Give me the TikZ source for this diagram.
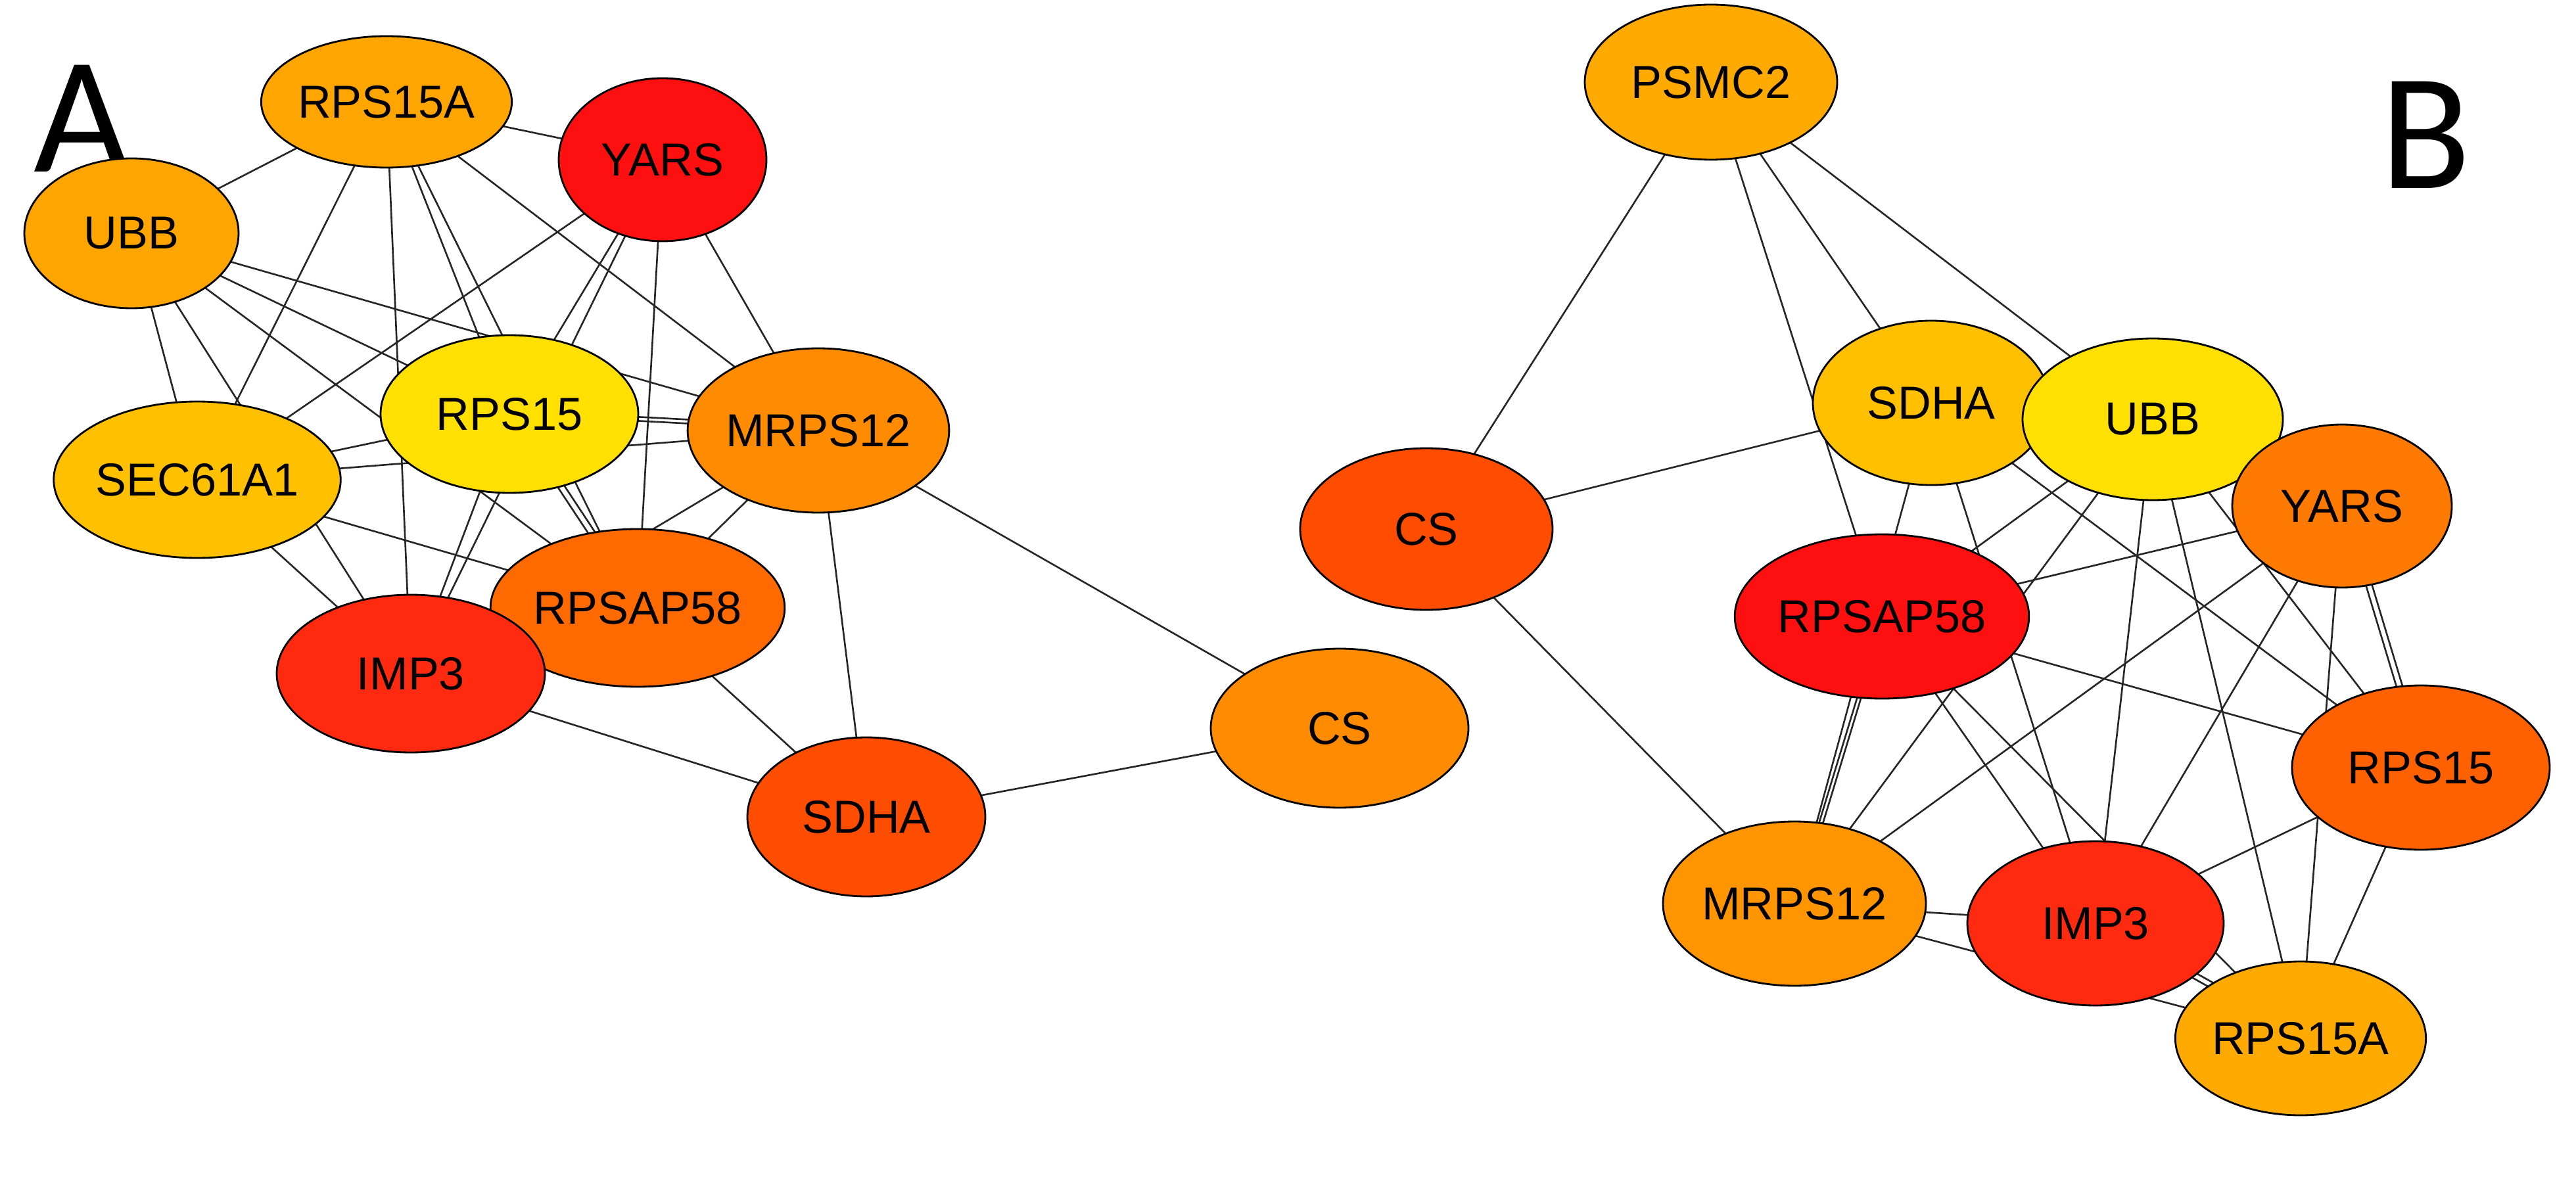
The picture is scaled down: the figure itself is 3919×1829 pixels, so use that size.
\documentclass[tikz,border=0pt]{standalone}
\usepackage{fontspec}
\setmainfont{Liberation Sans}
\newfontfamily\lab{Carlito}
\usetikzlibrary{shapes.geometric,backgrounds}
\begin{document}
\begin{tikzpicture}[x=0.1mm,y=-0.1mm,
 g/.style={ellipse,draw=black,line width=0.8pt,inner sep=0pt,font=\fontsize{20}{24}\selectfont},
 e/.style={line width=0.75pt,draw=black!85},
 big/.style={font=\lab\fontsize{72}{80}\selectfont,inner sep=0pt}]
\useasboundingbox (0,0) rectangle (3919,1829);
\definecolor{c1}{HTML}{FFA500}\definecolor{c2}{HTML}{FF1010}\definecolor{c3}{HTML}{FFE000}
\definecolor{c4}{HTML}{FF8C00}\definecolor{c5}{HTML}{FFC000}\definecolor{c6}{HTML}{FF6A00}
\definecolor{c7}{HTML}{FF2A10}\definecolor{c8}{HTML}{FF4D00}\definecolor{c9}{HTML}{FF7A00}
\definecolor{c10}{HTML}{FFAA00}\definecolor{c11}{HTML}{FF6000}\definecolor{c12}{HTML}{FF9500}
\node[big] (LA) at (125,180) {A};
\node[big] (LB) at (3690,205) {B};
% panel A
\node[g,fill=c1,minimum width=35mm,minimum height=20mm] (a15A) at (588,155) {RPS15A};
\node[g,fill=c2,minimum width=31.6mm,minimum height=24.8mm] (aY) at (1008,243) {YARS};
\node[g,fill=c1,minimum width=32.6mm,minimum height=22.8mm] (aU) at (200,355) {UBB};
\node[g,fill=c3,minimum width=39.2mm,minimum height=24mm] (a15) at (775,630) {RPS15};
\node[g,fill=c4,minimum width=34.6mm,minimum height=25mm] (aM) at (1245,655) {MRPS12};
\node[g,fill=c5,minimum width=40mm,minimum height=23.8mm] (aS) at (300,730) {SEC61A1};
\node[g,fill=c6,minimum width=35.6mm,minimum height=24mm] (aR) at (970,925) {RPSAP58};
\node[g,fill=c7,minimum width=40.8mm,minimum height=24mm] (aI) at (625,1025) {IMP3};
\node[g,fill=c8,minimum width=36.2mm,minimum height=24.2mm] (aD) at (1318,1243) {SDHA};
\node[g,fill=c4,minimum width=39.2mm,minimum height=24.2mm] (aC) at (2038,1108) {CS};
% panel B
\node[g,fill=c10,minimum width=38.4mm,minimum height=23.6mm] (bP) at (2603,125) {PSMC2};
\node[g,fill=c5,minimum width=36mm,minimum height=25mm] (bD) at (2938,613) {SDHA};
\node[g,fill=c3,minimum width=39.6mm,minimum height=24.6mm] (bU) at (3275,638) {UBB};
\node[g,fill=c9,minimum width=33.4mm,minimum height=24.8mm] (bY) at (3563,770) {YARS};
\node[g,fill=c8,minimum width=38.4mm,minimum height=24.6mm] (bC) at (2170,805) {CS};
\node[g,fill=c2,minimum width=38mm,minimum height=25mm] (bR) at (2863,938) {RPSAP58};
\node[g,fill=c11,minimum width=39.2mm,minimum height=25mm] (b15) at (3683,1168) {RPS15};
\node[g,fill=c12,minimum width=40mm,minimum height=25mm] (bM) at (2730,1375) {MRPS12};
\node[g,fill=c7,minimum width=39mm,minimum height=25mm] (bI) at (3188,1405) {IMP3};
\node[g,fill=c10,minimum width=35.2mm,minimum height=23.4mm] (b15A) at (3500,1580) {RPS15A};
\begin{scope}[on background layer]
\foreach \a/\b in {a15A/aY,a15A/aU,a15A/aS,a15A/aI,a15A/a15,a15A/aR,a15A/aM,
 aY/a15,aY/aS,aY/aI,aY/aR,aY/aM,
 aU/a15,aU/aM,aU/aS,aU/aI,aU/aR,
 a15/aS,a15/aM,a15/aI,a15/aR,
 aS/aM,aS/aR,aS/aI,
 aM/aR,aM/aI,aM/aD,aM/aC,
 aR/aI,aR/aD,aI/aD,aD/aC,
 bP/bC,bP/bR,bP/bD,bP/bU,bC/bD,bC/bM,
 bD/b15,bD/bI,bD/bM,
 bR/bY,bR/b15,bR/bM,bR/bI,bR/b15A,
 bU/bM,bU/bI,bU/b15A,bU/b15,bU/bR,
 bY/bM,bY/bI,bY/b15,bY/b15A,
 b15/bI,b15/b15A,bI/b15A,bM/b15A,bM/bI}
 \draw[e] (\a.center) -- (\b.center);
\foreach \a/\b in {a15/aM,a15/aR,bR/bM,bY/b15,bI/b15A}
 \draw[e,transform canvas={xshift=2.2pt,yshift=1.6pt}] (\a.center) -- (\b.center);
\end{scope}
\end{tikzpicture}
\end{document}
